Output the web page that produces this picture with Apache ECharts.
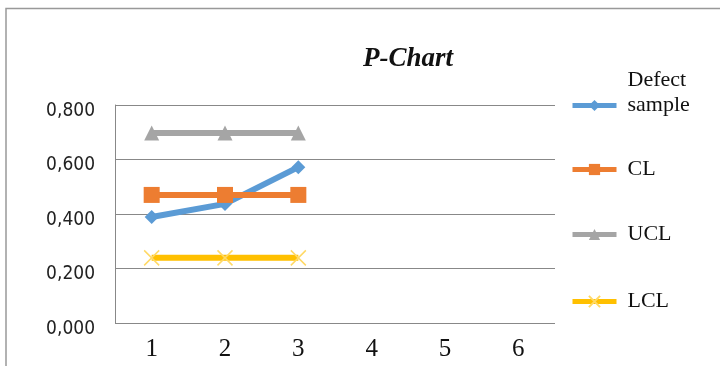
<!DOCTYPE html>
<html><head><meta charset="utf-8">
<script src="https://cdn.jsdelivr.net/npm/echarts@6/dist/echarts.min.js"></script>
<style>html,body{margin:0;padding:0;background:#fff}#c{width:720px;height:366px}</style>
</head><body><div id="c"></div>
<script>
const categories = ['1','2','3','4','5','6'];
const defectSample = [0.389, 0.437, 0.572];
const clValues = [0.470, 0.470, 0.470];
const uclValues = [0.697, 0.697, 0.697];
const lclValues = [0.239, 0.239, 0.239];
const seriesNames = ['Defect sample', 'CL', 'UCL', 'LCL'];
const legendLabels = {'Defect sample': 'Defect\nsample\n '};

const chart = echarts.init(document.getElementById('c'));
const serif = 'Liberation Serif, Times New Roman, serif';
const sans = '"Liberation Sans Narrow", "DejaVu Sans Condensed", "Liberation Sans", sans-serif';
const xPath = 'path://M0,0L10,10M10,0L0,10';
function mk(name, data, color, symbol, size, extra) {
  return Object.assign({
    name, type: 'line', data, symbol, symbolSize: size,
    lineStyle: {color, width: 6},
    itemStyle: {color},
    emphasis: {disabled: true}, animation: false
  }, extra || {});
}
function leg(name, top) {
  return {
    data: [name], left: 565, top, orient: 'vertical', itemWidth: 44, itemHeight: 14, itemGap: 0,
    formatter: n => legendLabels[n] || n,
    lineStyle: {width: 5},
    textStyle: {fontFamily: serif, fontSize: 22, color: '#111', lineHeight: 25, padding: [0, 0, 0, 6]},
    selectedMode: false
  };
}
chart.setOption({
  animation: false,
  title: {text: 'P-Chart', left: 403, top: 41, textAlign: 'center',
    textStyle: {fontFamily: serif, fontStyle: 'italic', fontWeight: 'bold', fontSize: 27, color: '#111'}},
  legend: [leg(seriesNames[0], 63), leg(seriesNames[1], 152), leg(seriesNames[2], 217), leg(seriesNames[3], 284)],
  grid: {left: 115, right: 165, top: 105, bottom: 43},
  xAxis: {type: 'category', data: categories, boundaryGap: true,
    axisLine: {show: false}, axisTick: {show: false},
    axisLabel: {fontFamily: serif, fontSize: 25, color: '#111', margin: 14}},
  yAxis: {type: 'value', min: 0, max: 0.8, interval: 0.2,
    axisLine: {show: true, lineStyle: {color: '#888', width: 1}}, axisTick: {show: false},
    splitLine: {lineStyle: {color: '#888', width: 1}},
    axisLabel: {color: '#222', margin: 20,
      formatter: v => '{a|' + v.toFixed(3).replace('.', ',') + '}',
      rich: {a: {fontFamily: sans, fontSize: 19, color: '#222', padding: [12, 0, 0, 0]}}}},
  graphic: [{type: 'polyline', shape: {points: [[6,366],[6,8.5],[720,8.5]]},
    style: {stroke: '#999', lineWidth: 1.5, fill: null}}],
  series: [
    mk(seriesNames[0], defectSample, '#5B9BD5', 'diamond', 14),
    mk(seriesNames[1], clValues, '#ED7D31', 'rect', 16, {itemStyle: {color: '#ED7D31', borderColor: '#fff', borderWidth: 0}}),
    mk(seriesNames[2], uclValues, '#A5A5A5', 'triangle', 15),
    mk(seriesNames[3], lclValues, '#FFC000', xPath, 15, {itemStyle: {color: 'transparent', borderColor: '#FFD966', borderWidth: 1.5}})
  ]
});
</script></body></html>
